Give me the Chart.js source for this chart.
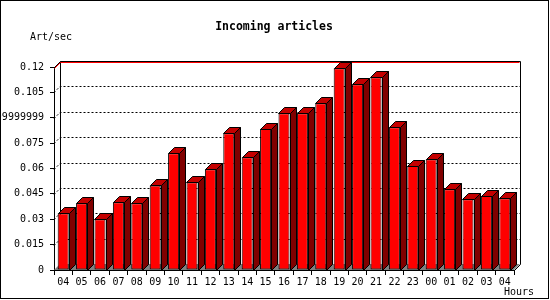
<!DOCTYPE html>
<html>
<head>
<meta charset="utf-8">
<script src="https://cdn.jsdelivr.net/npm/chart.js@4"></script>
<style>
  body { margin: 0; background: #fff; }
  #wrap { width: 550px; height: 300px; position: relative; }
</style>
</head>
<body>
<div id="wrap"><canvas id="artChart" width="550" height="300"></canvas></div>
<script>
const hours = ["04","05","06","07","08","09","10","11","12","13","14","15","16","17","18","19","20","21","22","23","00","01","02","03","04"];
const artPerSec = [0.0335,0.0394,0.030,0.040,0.0394,0.050,0.069,0.0518,0.0595,0.0808,0.0666,0.0835,0.0926,0.0926,0.0985,0.1192,0.1098,0.114,0.0844,0.0615,0.0654,0.0477,0.0418,0.0437,0.0424];
const yTickValues = [0,0.015,0.03,0.045,0.06,0.075,0.09,0.105,0.12];
const yTickLabels = ["0","0.015","0.03","0.045","0.06","0.075","0.0899999999","0.105","0.12"];

const DEPTH = 6;
const monoFont = "'DejaVu Sans Mono', 'Liberation Mono', monospace";

// back panel, grid lines, floor and the 3d faces of the bars
const box3d = {
  id: "box3d",
  beforeDatasetsDraw(chart) {
    const ctx = chart.ctx;
    const a = chart.chartArea;
    const y = chart.scales.y;
    const d = DEPTH;
    ctx.save();
    // floor
    ctx.fillStyle = "#808080";
    ctx.beginPath();
    ctx.moveTo(a.left, a.bottom);
    ctx.lineTo(a.right, a.bottom);
    ctx.lineTo(a.right + d, a.bottom - d);
    ctx.lineTo(a.left + d, a.bottom - d);
    ctx.closePath();
    ctx.fill();
    // dotted grid lines on back wall
    ctx.strokeStyle = "#000";
    ctx.lineWidth = 1;
    ctx.setLineDash([2, 2]);
    yTickValues.forEach(v => {
      if (v === 0 || v === yTickValues[yTickValues.length - 1]) return;
      const py = Math.round(y.getPixelForValue(v)) + 0.5;
      ctx.beginPath();
      ctx.moveTo(a.left, py);
      ctx.lineTo(a.left + d, py - d);
      ctx.lineTo(a.right + d, py - d);
      ctx.stroke();
    });
    ctx.setLineDash([]);
    // back panel edges
    const top = Math.round(a.top) + 0.5;
    const L = Math.round(a.left) + 0.5, R = Math.round(a.right) + 0.5, B = Math.round(a.bottom) + 0.5;
    ctx.beginPath();
    ctx.moveTo(L + d, B - d);
    ctx.lineTo(L + d, top - d);
    ctx.lineTo(R + d, top - d);
    ctx.lineTo(R + d, B - d);
    ctx.lineTo(R, B);
    ctx.moveTo(L, top);
    ctx.lineTo(L + d, top - d);
    ctx.stroke();
    ctx.strokeStyle = "#ff0000";
    ctx.beginPath();
    ctx.moveTo(L, top + 1);
    ctx.lineTo(L + d, top - d + 1);
    ctx.lineTo(R + d - 1, top - d + 1);
    ctx.stroke();
    ctx.restore();
  },
  afterDatasetsDraw(chart) {
    const ctx = chart.ctx;
    const d = DEPTH;
    const meta = chart.getDatasetMeta(0);
    ctx.save();
    ctx.strokeStyle = "#000";
    ctx.lineWidth = 1;
    meta.data.forEach(bar => {
      const w = bar.width;
      const l = Math.round(bar.x - w / 2) + 0.5;
      const r = Math.round(bar.x + w / 2) + 0.5;
      const t = Math.round(bar.y) + 0.5;
      const b = Math.round(bar.base) + 0.5;
      // side
      ctx.fillStyle = "#800000";
      ctx.beginPath();
      ctx.moveTo(r, t);
      ctx.lineTo(r + d, t - d);
      ctx.lineTo(r + d, b - d);
      ctx.lineTo(r, b);
      ctx.closePath();
      ctx.fill();
      ctx.stroke();
      // top
      ctx.fillStyle = "#c40000";
      ctx.beginPath();
      ctx.moveTo(l, t);
      ctx.lineTo(l + d, t - d);
      ctx.lineTo(r + d, t - d);
      ctx.lineTo(r, t);
      ctx.closePath();
      ctx.fill();
      ctx.stroke();
    });
    ctx.restore();
  },
  afterDraw(chart) {
    const ctx = chart.ctx;
    ctx.save();
    ctx.strokeStyle = "#000";
    ctx.lineWidth = 1;
    ctx.strokeRect(0.5, 0.5, 548, 298);
    ctx.fillStyle = "#000";
    ctx.textBaseline = "middle";
    ctx.textAlign = "center";
    ctx.font = "bold 11.5px " + monoFont;
    ctx.fillText("Incoming articles", 274, 27);
    ctx.font = "10px " + monoFont;
    ctx.textAlign = "left";
    ctx.fillText("Art/sec", 30, 37);
    ctx.fillText("Hours", 504, 292);
    ctx.restore();
  }
};

const ctx = document.getElementById("artChart").getContext("2d");
const artChart = new Chart(ctx, {
  type: "bar",
  data: {
    labels: hours,
    datasets: [{
      label: "Art/sec",
      data: artPerSec,
      backgroundColor: "#ff0000",
      borderColor: "#000",
      borderWidth: 1,
      borderSkipped: false,
      categoryPercentage: 1.0,
      barPercentage: 0.6
    }]
  },
  options: {
    responsive: false,
    animation: false,
    layout: { padding: { left: 0, right: 36, top: 67, bottom: 0 } },
    plugins: {
      legend: { display: false },
      title: { display: false },
      tooltip: { enabled: false }
    },
    scales: {
      x: {
        offset: true,
        grid: { display: true, drawOnChartArea: false, drawTicks: true, tickLength: 5, offset: true, color: "#000" },
        border: { display: true, color: "#000" },
        ticks: { color: "#000", font: { family: monoFont, size: 10 }, padding: 1, maxRotation: 0, autoSkip: false },
        afterFit(scale) { scale.height = 30; }
      },
      y: {
        min: 0,
        max: 0.12,
        afterBuildTicks(scale) { scale.ticks = yTickValues.map(v => ({ value: v })); },
        grid: { display: true, drawOnChartArea: false, drawTicks: true, tickLength: 4, color: "#000" },
        border: { display: true, color: "#000" },
        ticks: {
          color: "#000",
          font: { family: monoFont, size: 10 },
          padding: 6,
          callback: (v, i) => yTickLabels[i]
        },
        afterFit(scale) { scale.width = 54; }
      }
    }
  },
  plugins: [box3d]
});
</script>
</body>
</html>
